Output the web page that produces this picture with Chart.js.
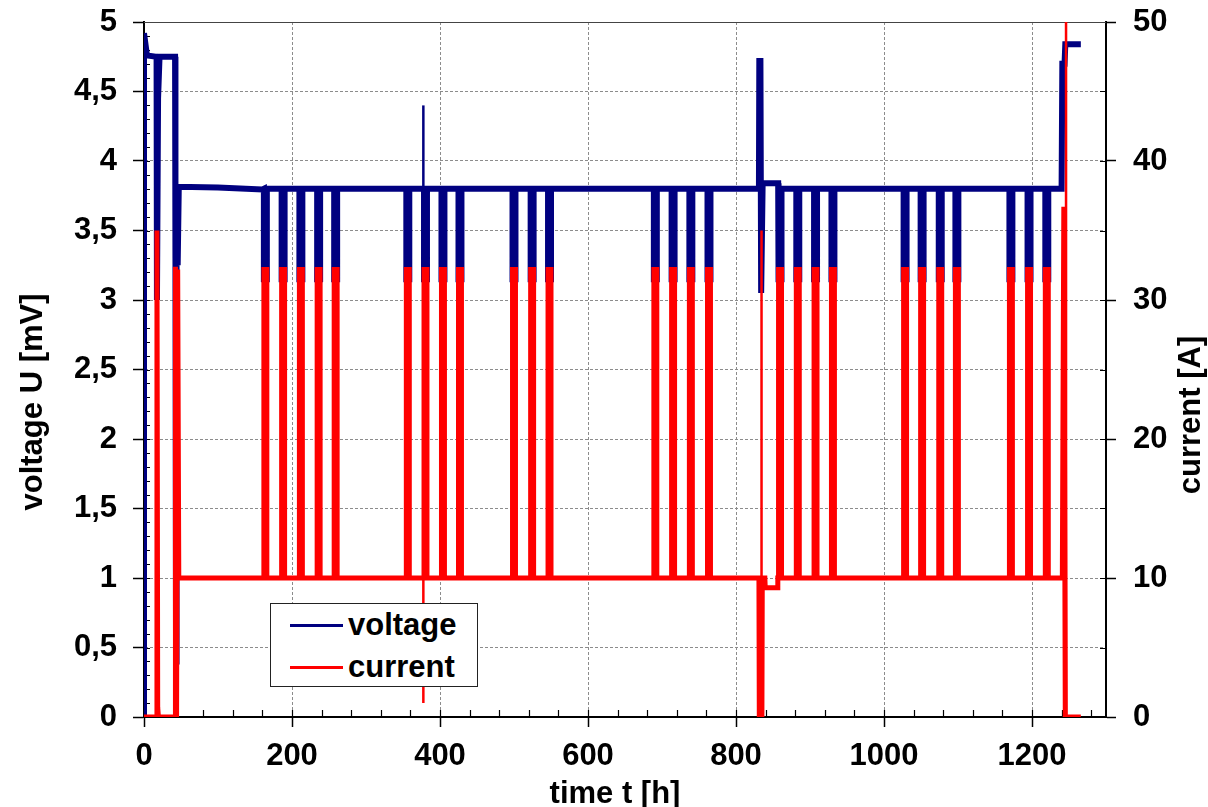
<!DOCTYPE html>
<html>
<head>
<meta charset="utf-8">
<title>voltage / current over time</title>
<script src="https://cdn.jsdelivr.net/npm/chart.js@4.4.1/dist/chart.umd.min.js"></script>
<style>
  html, body { margin: 0; padding: 0; background: #fff; }
  #wrap { position: relative; width: 1208px; height: 807px; }
  #legend {
    position: absolute; left: 270px; top: 603px; width: 206px; height: 82px;
    border: 1px solid #222; background: #fff;
    font: bold 31px "Liberation Sans", Arial, sans-serif; color: #000;
  }
  .row { position: absolute; left: 0; height: 36px; line-height: 36px; }
  .swatch { position: absolute; left: 19px; top: 17px; width: 53px; height: 3px; }
  .label { position: absolute; left: 77px; top: 0; white-space: nowrap; }
</style>
</head>
<body>
<div id="wrap">
  <canvas id="chart" width="1208" height="807"></canvas>
  <div id="legend"></div>
</div>
<script>
// ── Data ───────────────────────────────────────────
// time in h, voltage on the left axis, current on the right axis
const pulseStarts = [162, 186, 210, 234, 257, 354.5, 378.4, 402, 425, 498, 522.5, 546,
  689, 713, 737, 761.5, 857.5, 881.5, 905.5, 929, 1026.5, 1049.5, 1074, 1096.5,
  1169.5, 1194, 1218];
const pulseLength = 4;
const restVoltage = 3.80;
const pulseVoltage = 3.15;
const restCurrent = 10;
const pulseCurrent = 32.2;

// irregular parts: start-up, event near 833 h, end of test
const voltageTime  = [0, 0, 4, 17, 17.5, 19, 21, 42, 42.5, 43.3, 44, 45.5, 47, 100, 160, 300,
  831, 831.5, 833, 834, 836, 857, 1240, 1241, 1244, 1245, 1266];
const voltageValue = [0, 4.92, 4.76, 4.75, 3.0, 4.45, 4.75, 4.75, 3.3, 0.4, 3.3, 3.25, 3.815, 3.81, 3.795, 3.80,
  3.80, 4.72, 4.72, 3.05, 3.84, 3.84, 3.80, 4.70, 4.70, 4.84, 4.84];

const currentTime  = [0, 17, 17.5, 18.5, 19.5, 42, 42.5, 44, 45.5, 47,
  831, 831.5, 835, 835.5, 839, 839.5, 856, 856.5, 1241, 1243, 1245, 1266];
const currentValue = [0, 0, 35, 0.7, 0, 0, 32.4, 0, 32.2, 10,
  10, 0, 0, 10, 10, 9.3, 9.3, 10, 10, 36.7, 0, 0];

// short spikes drawn with a thin line
const voltageSpikeTime  = [377.5, 377.5];
const voltageSpikeValue = [3.80, 4.40];
const currentSpikeTime  = [377.5, 377.5, 377.5, 834.5, 834.5, 834.5, 1246, 1246];
const currentSpikeValue = [10, 1.0, null, 0, 35, null, 0, 50];

const xTicks = [0, 200, 400, 600, 800, 1000, 1200];
const xMax = 1300;
const voltageMax = 5;
const currentMax = 50;

// ── Build step series ──────────────────────────────
function buildSeries(times, values, rest, pulse) {
  const pts = times.map((t, i) => ({ x: t, y: values[i] }));
  pulseStarts.forEach(s => {
    pts.push({ x: s, y: rest }, { x: s, y: pulse },
             { x: s + pulseLength, y: pulse }, { x: s + pulseLength, y: rest });
  });
  return pts.sort((a, b) => a.x - b.x);
}
const pairs = (t, v) => t.map((x, i) => ({ x, y: v[i] }));

const voltageData = buildSeries(voltageTime, voltageValue, restVoltage, pulseVoltage);
const currentData = buildSeries(currentTime, currentValue, restCurrent, pulseCurrent);

const NAVY = '#000080';
const RED = '#ff0000';
const FONT = 'Liberation Sans';

// no label overflow padding: the plot area is fixed
function fixBox(size, key) {
  return s => {
    s[key] = size;
    s.paddingTop = 0; s.paddingBottom = 0; s.paddingLeft = 0; s.paddingRight = 0;
  };
}

// ── Minor ticks, frame and axis titles ─────────────
const axisDecor = {
  id: 'axisDecor',
  beforeDatasetsDraw(chart) {
    const { ctx, chartArea: a, scales: { x, y, y1 } } = chart;
    ctx.save();
    ctx.strokeStyle = '#000';
    ctx.lineWidth = 1.2;
    ctx.beginPath();
    for (let i = 0; i * 40 <= xMax; i++) {
      const px = Math.round(x.getPixelForValue(i * 40)) + 0.5;
      ctx.moveTo(px, a.bottom); ctx.lineTo(px, a.bottom - 7);
    }
    for (let i = 0; i <= voltageMax * 10; i++) {
      const py = Math.round(y.getPixelForValue(i / 10)) + 0.5;
      ctx.moveTo(a.left, py); ctx.lineTo(a.left + 6, py);
    }
    for (let i = 0; i * 5 <= currentMax; i++) {
      const py = Math.round(y1.getPixelForValue(i * 5)) + 0.5;
      ctx.moveTo(a.right, py); ctx.lineTo(a.right - 6, py);
    }
    ctx.stroke();
    ctx.strokeStyle = '#444';
    ctx.lineWidth = 1.2;
    ctx.beginPath();
    ctx.moveTo(a.left, a.top + 0.5); ctx.lineTo(a.right, a.top + 0.5);
    ctx.stroke();
    ctx.restore();
  },
  afterDraw(chart) {
    const { ctx } = chart;
    ctx.save();
    ctx.fillStyle = '#000';
    ctx.font = `bold 31px "${FONT}"`;
    ctx.textAlign = 'center';
    ctx.textBaseline = 'alphabetic';
    ctx.fillText('time t [h]', 615, 803);
    ctx.translate(42, 402);
    ctx.rotate(-Math.PI / 2);
    ctx.fillText('voltage U [mV]', 0, 0);
    ctx.restore();
    ctx.save();
    ctx.fillStyle = '#000';
    ctx.font = `bold 31px "${FONT}"`;
    ctx.textAlign = 'center';
    ctx.translate(1200, 415);
    ctx.rotate(-Math.PI / 2);
    ctx.fillText('current [A]', 0, 0);
    ctx.restore();
  }
};

const tickFont = { family: FONT, weight: 'bold', size: 31 };
const gridStyle = { color: '#8c8c8c', lineWidth: 1, tickColor: '#000', tickWidth: 1.5 };

const chart = new Chart(document.getElementById('chart'), {
  type: 'line',
  data: {
    datasets: [
      { label: 'current', data: currentData, yAxisID: 'y1', borderColor: RED, borderWidth: 5, pointRadius: 0 },
      { label: 'current spike', data: pairs(currentSpikeTime, currentSpikeValue), yAxisID: 'y1',
        borderColor: RED, borderWidth: 2.5, pointRadius: 0, spanGaps: false },
      { label: 'voltage', data: voltageData, yAxisID: 'y', borderColor: NAVY, borderWidth: 6, pointRadius: 0 },
      { label: 'voltage spike', data: pairs(voltageSpikeTime, voltageSpikeValue), yAxisID: 'y',
        borderColor: NAVY, borderWidth: 2.5, pointRadius: 0 },
    ],
  },
  options: {
    responsive: false,
    animation: false,
    devicePixelRatio: 1,
    layout: { padding: { top: 22, left: 0, right: 0, bottom: 0 }, autoPadding: false },
    plugins: { legend: { display: false }, tooltip: { enabled: false } },
    elements: { line: { tension: 0, borderJoinStyle: 'miter', borderCapStyle: 'butt', fill: false } },
    scales: {
      x: {
        type: 'linear', min: 0, max: xMax,
        afterFit: fixBox(90, 'height'),
        afterBuildTicks: s => { s.ticks = xTicks.map(v => ({ value: v })); },
        ticks: { font: tickFont, color: '#000', padding: 11, maxRotation: 0, autoSkip: false,
                 callback: v => String(v) },
        grid: { ...gridStyle, tickLength: 10, color: c => c.tick && c.tick.value === 0 ? 'rgba(0,0,0,0)' : '#8c8c8c' },
        border: { color: '#000', width: 2, dash: [3, 2] },
      },
      y: {
        position: 'left', min: 0, max: voltageMax,
        afterFit: fixBox(144, 'width'),
        ticks: { stepSize: 0.5, font: tickFont, color: '#000', padding: 16,
                 callback: v => String(v).replace('.', ',') },
        grid: { ...gridStyle, tickLength: 11, color: c => c.tick && (c.tick.value === 0 || c.tick.value === voltageMax) ? 'rgba(0,0,0,0)' : '#8c8c8c' },
        border: { color: '#000', width: 2, dash: [3, 2] },
      },
      y1: {
        position: 'right', min: 0, max: currentMax,
        afterFit: fixBox(102, 'width'),
        ticks: { stepSize: 10, font: tickFont, color: '#000', padding: 17 },
        grid: { ...gridStyle, drawOnChartArea: false, tickLength: 10 },
        border: { color: '#000', width: 2 },
      },
    },
  },
  plugins: [axisDecor],
});

// ── HTML legend (inside the plot) ──────────────────
const legendItems = [
  { label: 'voltage', color: NAVY },
  { label: 'current', color: RED },
];
document.getElementById('legend').innerHTML = legendItems.map((it, i) => `
  <div class="row" style="top:${3 + i * 42}px">
    <div class="swatch" style="background:${it.color}"></div>
    <div class="label">${it.label}</div>
  </div>`).join('');
</script>
</body>
</html>
